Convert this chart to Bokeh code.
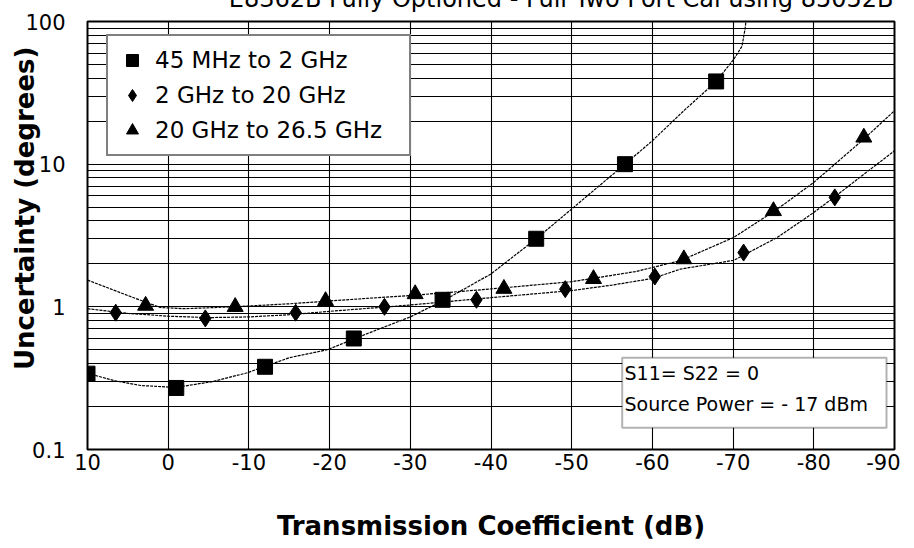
import math
from bokeh.plotting import figure
from bokeh.models import (Range1d, FixedTicker, CustomJSTickFormatter, Label,
                          Legend, LegendItem, BoxAnnotation, Title)
from bokeh.embed import file_html
from bokeh.resources import INLINE

# ---------------- data ----------------
x_ticks = [10, 0, -10, -20, -30, -40, -50, -60, -70, -80, -90]
y_ticks = [0.1, 1, 10, 100]
y_minor_mult = [2, 3, 4, 5, 6, 7, 8, 9]

series_labels = ["45 MHz to 2 GHz", "2 GHz to 20 GHz", "20 GHz to 26.5 GHz"]

sq_x = [10, -1, -12, -23, -34, -45.6, -56.6, -67.9]
sq_y = [0.34, 0.27, 0.38, 0.6, 1.12, 3.0, 10.0, 38.0]

dia_x = [6.5, -4.6, -15.8, -26.8, -38.2, -49.2, -60.3, -71.3, -82.6]
dia_y = [0.91, 0.83, 0.91, 1.0, 1.12, 1.33, 1.63, 2.4, 5.85]

tri_x = [2.8, -8.3, -19.5, -30.6, -41.6, -52.7, -63.9, -75.0, -86.2]
tri_y = [1.02, 1.0, 1.1, 1.23, 1.34, 1.57, 2.16, 4.7, 15.4]

# fitted trend curves as drawn in the reference
sq_cx = [10, 6.7, 3.4, -0.9, -5.6, -9.8, -15, -19.7, -25, -30, -34.3, -40,
         -45.6, -49.9, -56.6, -60, -64, -67.9, -70.1, -71.1, -71.5, -71.7]
sq_cy = [0.342, 0.304, 0.281, 0.272, 0.3, 0.345, 0.44, 0.5, 0.66, 0.85, 1.12,
         1.7, 3.0, 4.8, 10.0, 14.6, 24.0, 38.0, 54.5, 67.0, 90.0, 115.0]

dia_cx = [10, 5, 0, -5, -10, -15, -20, -30, -40, -50, -55, -60, -63.5,
          -70.1, -75.5, -80, -82.5, -86.2, -90]
dia_cy = [0.97, 0.9, 0.86, 0.84, 0.85, 0.88, 0.93, 1.03, 1.16, 1.3, 1.42,
          1.58, 1.84, 2.12, 3.07, 4.59, 5.85, 8.5, 12.4]

tri_cx = [10, 5, 1, -2, -8, -15, -22, -30, -39, -50, -58, -63.5, -70.1,
          -75.5, -80, -86.2, -90]
tri_cy = [1.54, 1.2, 0.99, 0.97, 1.0, 1.05, 1.12, 1.2, 1.32, 1.5, 1.77,
          2.11, 3.07, 4.85, 7.45, 15.0, 23.7]

title_text = "E8362B Fully Optioned - Full Two Port Cal using 85052B"
x_title = "Transmission Coefficient (dB)"
y_title = "Uncertainty (degrees)"
note_lines = ["S11= S22 = 0", "Source Power = - 17 dBm"]

# ---------------- figure ----------------
FONT = "DejaVu Sans"
HIDE = 39                      # canvas rows pushed above the page top
W, H = 900, 548 + HIDE
FL, FT = 87, 21 + HIDE
FW, FH = 807, 428

p = figure(width=W, height=H, output_backend="svg", toolbar_location=None,
           x_range=Range1d(10, -90), y_range=Range1d(0.1, 100),
           y_axis_type="log",
           min_border_left=FL, min_border_right=W - FL - FW,
           min_border_top=FT, min_border_bottom=H - FT - FH)
p.margin = (-HIDE, 0, 0, 0)
p.outline_line_color = "black"
p.outline_line_width = 2
p.background_fill_color = "white"
p.border_fill_color = "white"

minor = [m * d for d in y_ticks[:-1] for m in y_minor_mult]
p.yaxis.ticker = FixedTicker(ticks=y_ticks, minor_ticks=minor)
p.xaxis.ticker = FixedTicker(ticks=x_ticks)
p.yaxis.formatter = CustomJSTickFormatter(code="return tick.toString()")
p.xaxis.formatter = CustomJSTickFormatter(code="return tick.toString()")

for ax in (p.xaxis, p.yaxis):
    ax.axis_line_color = None
    ax.major_tick_line_color = None
    ax.minor_tick_line_color = None
    ax.major_tick_out = 0
    ax.major_tick_in = 0
    ax.minor_tick_out = 0
    ax.major_label_text_font = FONT
    ax.major_label_text_font_size = "21px"
    ax.major_label_text_color = "black"
    ax.axis_label_text_font = FONT
    ax.axis_label_text_font_size = "26px"
    ax.axis_label_text_font_style = "bold"
    ax.axis_label_text_color = "black"
p.yaxis.major_label_standoff = 22
p.xaxis.major_label_standoff = 4
p.xaxis.axis_label = x_title
p.xaxis.axis_label_standoff = 38
# leading no-break spaces lift the centred title, as in the reference
p.yaxis.axis_label = "\u00a0" * 6 + y_title
p.yaxis.axis_label_standoff = -18

p.xgrid.grid_line_color = "black"
p.xgrid.grid_line_width = 1.1
p.ygrid.grid_line_color = "black"
p.ygrid.grid_line_width = 1.1
p.ygrid.minor_grid_line_color = "black"
p.ygrid.minor_grid_line_width = 1.1

# ---------------- curves and markers ----------------
p.line(sq_cx, sq_cy, line_color="black", line_width=1.2, line_dash="3 1")
p.line(dia_cx, dia_cy, line_color="black", line_width=1.2, line_dash="3 1")
p.line(tri_cx, tri_cy, line_color="black", line_width=1.2, line_dash="3 1")

r_sq = p.scatter(sq_x, sq_y, marker="square", size=15, color="black")
r_dia = p.scatter(dia_x, dia_y, marker="diamond", size=17, color="black")
r_tri = p.scatter(tri_x, tri_y, marker="triangle", size=16, color="black")

# ---------------- legend ----------------
legend = Legend(items=[LegendItem(label=series_labels[0], renderers=[r_sq]),
                       LegendItem(label=series_labels[1], renderers=[r_dia]),
                       LegendItem(label=series_labels[2], renderers=[r_tri])],
                location=(19, 293), orientation="vertical",
                border_line_color="black", border_line_width=2,
                background_fill_color="white", background_fill_alpha=1,
                padding=9, spacing=5, glyph_width=30, glyph_height=30,
                label_standoff=8, label_width=245, margin=0,
                label_text_font=FONT, label_text_font_size="23px",
                label_text_color="black")
p.add_layout(legend)

# ---------------- note box ----------------
box = BoxAnnotation(left=534.7, right=799, top=91.7, bottom=21.7,
                    left_units="screen", right_units="screen",
                    top_units="screen", bottom_units="screen",
                    fill_color="white", fill_alpha=1,
                    line_color="black", line_width=2)
p.add_layout(box)
p.add_layout(Label(x=537, y=77, x_units="screen", y_units="screen",
                   text=note_lines[0], text_font=FONT, text_font_size="19px",
                   text_align="left", text_baseline="middle", text_color="black"))
p.add_layout(Label(x=537, y=46, x_units="screen", y_units="screen",
                   text=note_lines[1], text_font=FONT, text_font_size="19px",
                   text_align="left", text_baseline="middle", text_color="black"))

# ---------------- chart title, cut at the top edge as in the reference ----------------
p.add_layout(Title(text=title_text, align="right", vertical_align="bottom",
                   standoff=18, offset=1, text_font=FONT,
                   text_font_size="24px", text_font_style="normal",
                   text_color="black"), "above")

open("out.html", "w").write(file_html(p, INLINE))
